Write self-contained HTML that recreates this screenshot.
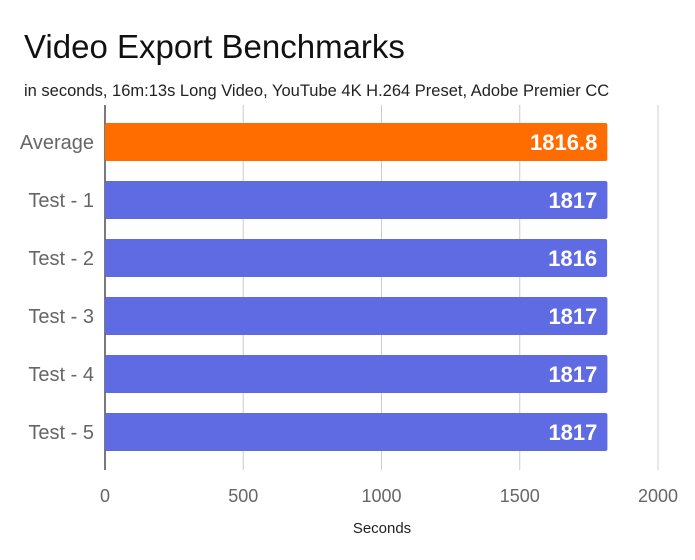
<!DOCTYPE html>
<html><head><meta charset="utf-8"><style>
body{margin:0;background:#fff;font-family:"Liberation Sans",sans-serif}
svg text{font-family:"Liberation Sans",sans-serif}
</style></head><body>
<svg width="695" height="555">
<rect width="695" height="555" fill="#fff"/>
<text x="24" y="58" font-size="33" fill="#111">Video Export Benchmarks</text>
<text x="24" y="96" font-size="16.5" fill="#222">in seconds, 16m:13s Long Video, YouTube 4K H.264 Preset, Adobe Premier CC</text>
<g id="grid"></g><g id="bars"></g><g id="labels"></g>
<text x="382" y="533" font-size="15" fill="#222" text-anchor="middle">Seconds</text>
</svg>
<script>
const categories=["Average","Test - 1","Test - 2","Test - 3","Test - 4","Test - 5"];
const values=[1816.8,1817,1816,1817,1817,1817];
const valueLabels=["1816.8","1817","1816","1817","1817","1817"];
const ticks=[0,500,1000,1500,2000];
const NS="http://www.w3.org/2000/svg";
const x0=105,x1=658,xmax=2000,top0=123,step=58,bh=38;
const xs=v=>x0+(v/xmax)*(x1-x0);
function mk(t,a){const e=document.createElementNS(NS,t);for(const k in a)e.setAttribute(k,a[k]);return e;}
const grid=document.getElementById('grid'),bars=document.getElementById('bars'),labels=document.getElementById('labels');
ticks.forEach(t=>{
 if(t>0){const l=mk('line',{x1:xs(t),x2:xs(t),y1:105,y2:470,stroke:'#ccc','stroke-width':1});
 
 grid.appendChild(l);}
 const tx=mk('text',{x:xs(t),y:502,'font-size':18,fill:'#666','text-anchor':'middle'});tx.textContent=t;
 
 labels.appendChild(tx);
});
const ax=mk('line',{x1:x0,x2:x0,y1:105,y2:470,stroke:'#333','stroke-width':1.3});

grid.appendChild(ax);
categories.forEach((c,i)=>{
 const y=top0+i*step;
 const r=mk('rect',{x:x0,y:y,width:xs(values[i])-x0,height:bh,rx:2,fill:i===0?'#ff6d00':'#5e6be3'});
 
 bars.appendChild(r);
 const v=mk('text',{x:xs(values[i])-10,y:y+bh/2+8,'font-size':22,'font-weight':'bold',fill:'#fff','text-anchor':'end'});v.textContent=valueLabels[i];
 
 labels.appendChild(v);
 const cl=mk('text',{x:94,y:y+bh/2+7,'font-size':20,fill:'#666','text-anchor':'end'});cl.textContent=c;
 
 labels.appendChild(cl);
});
</script>
</body></html>
